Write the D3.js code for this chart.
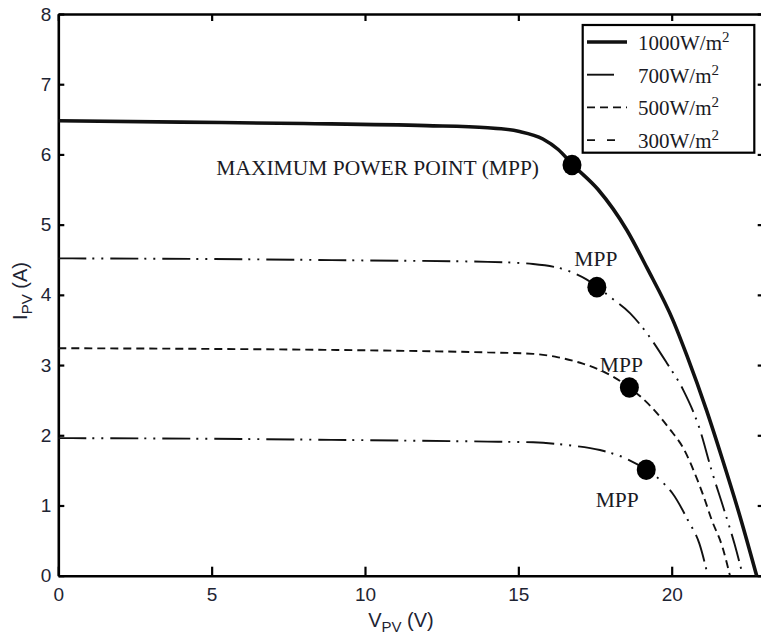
<!DOCTYPE html>
<html>
<head>
<meta charset="utf-8">
<script src="https://cdn.jsdelivr.net/npm/d3@7"></script>
<style>
  html, body { margin: 0; padding: 0; background: #fff; }
  svg { display: block; }
</style>
</head>
<body>
<svg id="chart" width="761" height="638"></svg>
<script>
// Irradiance levels shown in the legend (W/m²)
const irradiance = [1000, 700, 500, 300];

// I–V curves of the PV module: voltage (V) and current (A) samples per irradiance
const v1000 = [0, 4, 8, 12, 14, 15, 15.8, 16.3, 16.78, 17.6, 18.54, 19.2, 20.05, 20.5, 21.14, 21.63, 22.23, 22.77];
const i1000 = [6.48, 6.46, 6.44, 6.41, 6.38, 6.33, 6.22, 6.07, 5.85, 5.5, 4.92, 4.38, 3.63, 3.13, 2.35, 1.69, 0.84, 0];

const v700 = [0, 5, 10, 14, 15.48, 16.57, 17.22, 17.56, 17.99, 18.64, 19.18, 19.84, 20.37, 20.92, 21.3, 21.7, 22.05, 22.32];
const i700 = [4.52, 4.51, 4.49, 4.47, 4.44, 4.35, 4.22, 4.12, 3.97, 3.74, 3.46, 3.03, 2.65, 2.08, 1.5, 0.95, 0.45, 0];

const v500 = [0, 5, 10, 14, 15.48, 16.3, 17.1, 17.66, 18.62, 19.3, 19.95, 20.4, 20.76, 21.05, 21.3, 21.66, 21.9];
const i500 = [3.24, 3.23, 3.21, 3.18, 3.16, 3.11, 3.02, 2.93, 2.68, 2.42, 2.08, 1.8, 1.45, 1.12, 0.8, 0.4, 0];

const v300 = [0, 5, 10, 14, 15.48, 16.6, 17.66, 18.5, 19.17, 19.68, 20.03, 20.53, 20.9, 21.18];
const i300 = [1.96, 1.95, 1.93, 1.91, 1.9, 1.86, 1.79, 1.67, 1.51, 1.34, 1.17, 0.79, 0.46, 0];

// Maximum power points (V, A) for each irradiance
const mppV = [16.75, 17.56, 18.62, 19.17];
const mppI = [5.85, 4.11, 2.68, 1.51];
const mppText = ["MAXIMUM POWER POINT (MPP)", "MPP", "MPP", "MPP"];

// Axis ticks
const xTicks = [0, 5, 10, 15, 20];
const yTicks = [0, 1, 2, 3, 4, 5, 6, 7, 8];

const seriesV = [v1000, v700, v500, v300];
const seriesI = [i1000, i700, i500, i300];

// Stroke styles per curve
const styles = [
  { width: 3.6, dash: null },
  { width: 1.9, dash: "28,6,2,7,2,7" },
  { width: 1.9, dash: "8,5" },
  { width: 1.9, dash: "28,6,2,7,2,7" }
];
const legendStyles = [
  { width: 3.6, dash: null, len: 40 },
  { width: 1.9, dash: null, len: 27 },
  { width: 1.9, dash: "8,5", len: 40 },
  { width: 1.9, dash: "8,12", len: 30 }
];

// Label offsets from each MPP marker (pixels)
const labelPos = [
  { dx: -33, dy: 10, anchor: "end" },
  { dx: -1, dy: -21, anchor: "middle" },
  { dx: -8, dy: -16, anchor: "middle" },
  { dx: -29, dy: 37, anchor: "middle" }
];

const svg = d3.select("#chart");
const sans = "'Liberation Sans', Arial, sans-serif";
const serif = "'Liberation Serif', 'Times New Roman', serif";

const x = d3.scaleLinear().domain([0, 23]).range([58.3, 763.7]);
const y = d3.scaleLinear().domain([0, 8]).range([575.7, 14]);

// Axes (ticks point inward)
const gx = svg.append("g").attr("transform", `translate(0,${y(0)})`)
  .call(d3.axisBottom(x).tickValues(xTicks).tickSizeInner(-9).tickSizeOuter(0).tickPadding(12));
const gy = svg.append("g").attr("transform", `translate(${x(0)},0)`)
  .call(d3.axisLeft(y).tickValues(yTicks).tickSizeInner(-6).tickSizeOuter(0).tickPadding(7));
const gt = svg.append("g").attr("transform", `translate(0,${y(8)})`)
  .call(d3.axisTop(x).tickValues(xTicks).tickSizeInner(-7).tickSizeOuter(0).tickFormat(""));
const gr = svg.append("g").attr("transform", `translate(${x(23)},0)`)
  .call(d3.axisRight(y).tickValues(yTicks).tickSizeInner(-6).tickSizeOuter(0).tickFormat(""));

[gx, gy, gt, gr].forEach(g => {
  g.select(".domain").attr("stroke", "#000").attr("stroke-width", 2.6);
  g.selectAll(".tick line").attr("stroke", "#000").attr("stroke-width", 2.2);
  g.selectAll(".tick text").attr("fill", "#1e2433").style("font-family", sans).style("font-size", "19px");
});

// Curves
const line = d3.line().x(d => x(d[0])).y(d => y(d[1])).curve(d3.curveMonotoneX);
seriesV.forEach((vs, k) => {
  const pts = vs.map((v, j) => [v, seriesI[k][j]]);
  svg.append("path")
    .attr("d", line(pts))
    .attr("fill", "none")
    .attr("stroke", "#111")
    .attr("stroke-width", styles[k].width)
    .attr("stroke-dasharray", styles[k].dash)
    .attr("stroke-linejoin", "round");
});

// MPP markers and labels
mppV.forEach((v, k) => {
  const cx = x(v), cy = y(mppI[k]);
  svg.append("ellipse").attr("cx", cx).attr("cy", cy).attr("rx", 9.5).attr("ry", 10.3).attr("fill", "#000");
  svg.append("text")
    .attr("x", cx + labelPos[k].dx).attr("y", cy + labelPos[k].dy)
    .attr("text-anchor", labelPos[k].anchor)
    .style("font-family", serif).style("font-size", "21.5px").attr("fill", "#1a1a24")
    .text(mppText[k]);
});

// Legend
const lg = svg.append("g");
lg.append("rect").attr("x", 582.7).attr("y", 25).attr("width", 171.6).attr("height", 127.7)
  .attr("fill", "#fff").attr("stroke", "#000").attr("stroke-width", 2.2);
irradiance.forEach((lev, k) => {
  const ry = 42 + k * 32.7;
  const st = legendStyles[k];
  lg.append("line").attr("x1", 587).attr("x2", 587 + st.len).attr("y1", ry).attr("y2", ry)
    .attr("stroke", "#111").attr("stroke-width", st.width).attr("stroke-dasharray", st.dash);
  const t = lg.append("text").attr("x", 638).attr("y", ry + 8)
    .style("font-family", serif).style("font-size", "21px").attr("fill", "#1a1a24");
  t.append("tspan").text(lev + "W/m");
  t.append("tspan").attr("dy", -8).style("font-size", "15px").text("2");
});

// Axis titles
const xt = svg.append("text").attr("x", 401).attr("y", 627).attr("text-anchor", "middle")
  .style("font-family", sans).style("font-size", "20px").attr("fill", "#1e2433");
xt.append("tspan").text("V");
xt.append("tspan").attr("dy", 5).style("font-size", "15px").text("PV");
xt.append("tspan").attr("dy", -5).text(" (V)");

const yt = svg.append("text").attr("transform", "translate(27,291) rotate(-90)").attr("text-anchor", "middle")
  .style("font-family", sans).style("font-size", "20px").attr("fill", "#1e2433");
yt.append("tspan").text("I");
yt.append("tspan").attr("dy", 5).style("font-size", "15px").text("PV");
yt.append("tspan").attr("dy", -5).text(" (A)");
</script>
</body>
</html>
